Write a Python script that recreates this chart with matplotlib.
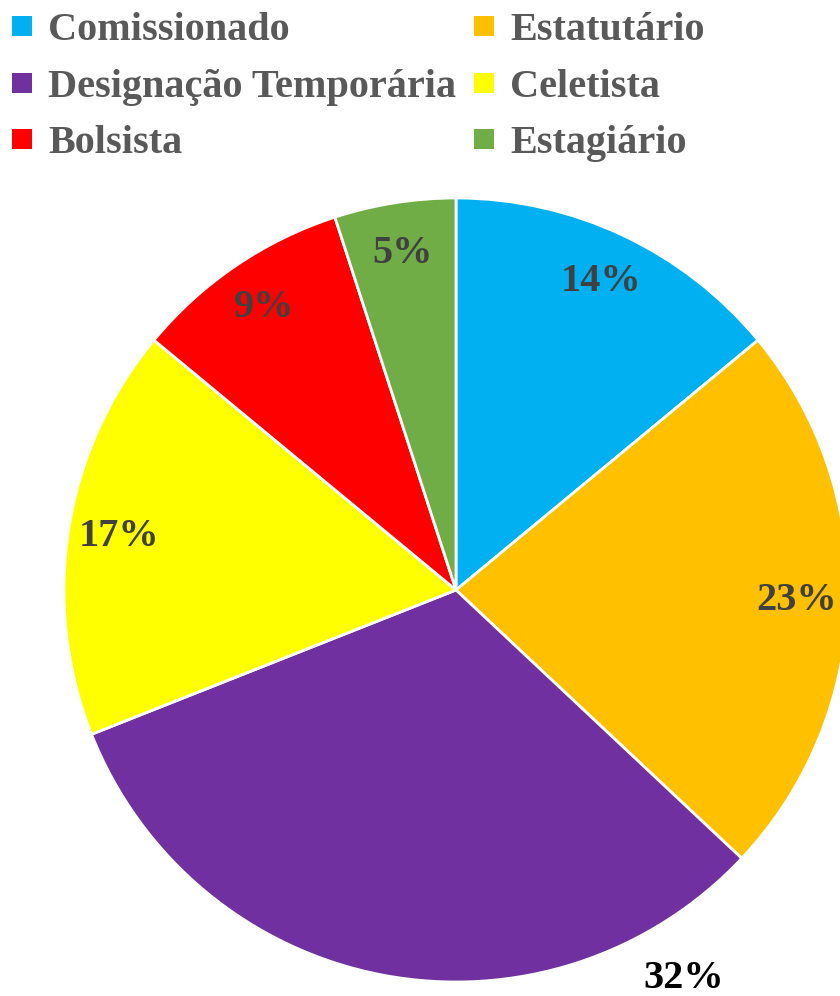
import matplotlib.pyplot as plt
from matplotlib.lines import Line2D

categories = ["Comissionado", "Estatutário", "Designação Temporária",
              "Celetista", "Bolsista", "Estagiário"]
values = [14, 23, 32, 17, 9, 5]
colors = ["#00B0F0", "#FFC000", "#7030A0", "#FFFF00", "#FF0000", "#70AD47"]

plt.rcParams["font.family"] = ["Liberation Serif", "DejaVu Serif"]
plt.rcParams["font.weight"] = "bold"

W, H = 840, 996
fig = plt.figure(figsize=(W / 100, H / 100), dpi=100)
ax = fig.add_axes([0, 0, 1, 1])

wedges, texts, autotexts = ax.pie(
    values, colors=colors, startangle=90, counterclock=False,
    autopct="%1.0f%%", pctdistance=0.87,
    wedgeprops=dict(edgecolor="white", linewidth=2),
    textprops=dict(color="#404040", fontsize=29, fontweight="bold"))

# 32% label sits outside the pie, below right
autotexts[2].set_position((0.58, -0.99))
autotexts[2].set_color("black")

# map pie so centre lands at (456, 590) px with radius 392 px
r = 392
cx, cy = 456, 590
ax.set_xlim(-cx / r, (W - cx) / r)
ax.set_ylim(-(H - cy) / r, cy / r)
ax.set_aspect("equal")
ax.axis("off")

order = [0, 2, 4, 1, 3, 5]
handles = [Line2D([], [], marker="s", linestyle="none", markersize=15,
                  markerfacecolor=colors[i], markeredgewidth=0) for i in order]
labels = [categories[i] for i in order]
fig.legend(handles, labels, ncol=2, loc="upper left",
           bbox_to_anchor=(0.0, 0.996), frameon=False,
           prop=dict(size=29, weight="bold"), labelcolor="#595959",
           handlelength=0.7, handletextpad=0.3, columnspacing=0.33,
           labelspacing=0.48, borderpad=0.15, borderaxespad=0.05)

fig.savefig("out.png", dpi=100)
